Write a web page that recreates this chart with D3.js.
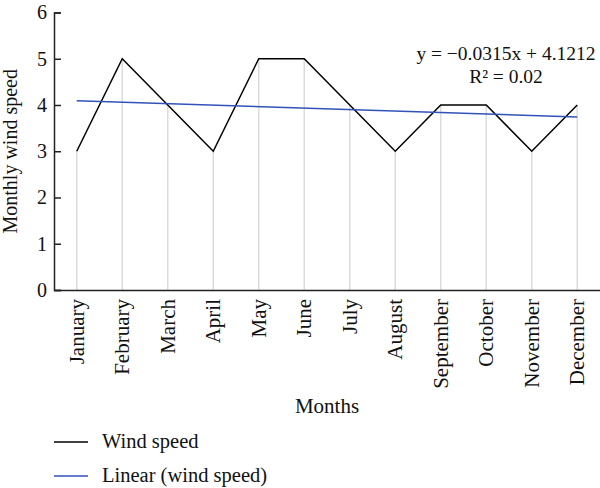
<!DOCTYPE html>
<html>
<head>
<meta charset="utf-8">
<script src="https://cdn.jsdelivr.net/npm/d3@7"></script>
<style>
    body { margin: 0; background: #fff; }
    svg { display: block; font-family: "Liberation Serif", "DejaVu Serif", serif; }
</style>
</head>
<body>
<svg id="chart" width="600" height="488"></svg>
<script>

const months = ['January', 'February', 'March', 'April', 'May', 'June',
    'July', 'August', 'September', 'October', 'November', 'December'];
const windSpeed = [3, 5, 4, 3, 5, 5, 4, 3, 4, 4, 3, 4];
const yTicks = [0, 1, 2, 3, 4, 5, 6];

// trendline as printed on the chart
const trendSlope = -0.0315;
const trendIntercept = 4.1212;
const trendLabel = ['y = \u22120.0315x + 4.1212', 'R\u00b2 = 0.02'];

const legendItems = [
    {name: 'Wind speed', color: '#000000'},
    {name: 'Linear (wind speed)', color: '#3352b8'}
];

const margin = {left: 54, right: 0, top: 12.5, bottom: 198};
const width = 600;
const height = 488;

const svg = d3.select('#chart');

const x = d3.scaleBand()
    .domain(months)
    .range([margin.left, width - margin.right]);

const y = d3.scaleLinear()
    .domain([0, 6])
    .range([height - margin.bottom, margin.top]);

const cx = function (m) { return x(m) + x.bandwidth() / 2; };

// drop lines
svg.append('g')
    .selectAll('line')
    .data(months)
    .enter()
    .append('line')
    .attr('x1', cx)
    .attr('x2', cx)
    .attr('y1', y(0))
    .attr('y2', function (d, i) { return y(windSpeed[i]); })
    .style('stroke', '#dcdcdc')
    .style('stroke-width', 1.5);

// y axis
const yAxis = svg.append('g')
    .attr('transform', 'translate(' + margin.left + ',0)')
    .call(d3.axisLeft(y).tickValues(yTicks).tickFormat(d3.format('d')).tickSize(-7).tickPadding(7));

yAxis.select('.domain').style('stroke', '#222').style('stroke-width', 1.5);
yAxis.selectAll('.tick line').style('stroke', '#222').style('stroke-width', 1.5);
yAxis.selectAll('.tick text')
    .style('font-size', '20px')
    .style('font-family', 'Liberation Serif')
    .style('fill', '#111');

// x axis
const xAxis = svg.append('g')
    .attr('transform', 'translate(0,' + y(0) + ')')
    .call(d3.axisBottom(x).tickSize(0).tickPadding(0));

xAxis.select('.domain').style('stroke', '#222').style('stroke-width', 1.5);
xAxis.selectAll('.tick text')
    .style('font-size', '21px')
    .style('font-family', 'Liberation Serif')
    .style('fill', '#111')
    .attr('text-anchor', 'end')
    .attr('transform', 'rotate(-90)')
    .attr('x', -9)
    .attr('y', 0)
    .attr('dy', '0.33em');

// wind speed line
svg.append('path')
    .datum(windSpeed)
    .attr('d', d3.line()
        .x(function (d, i) { return cx(months[i]); })
        .y(function (d) { return y(d); }))
    .style('fill', 'none')
    .style('stroke', legendItems[0].color)
    .style('stroke-width', 1.5);

// linear trend
const trendEnds = [1, months.length];
svg.append('path')
    .datum(trendEnds)
    .attr('d', d3.line()
        .x(function (n) { return cx(months[n - 1]); })
        .y(function (n) { return y(trendSlope * n + trendIntercept); }))
    .style('fill', 'none')
    .style('stroke', legendItems[1].color)
    .style('stroke-width', 1.5);

// trend equation
svg.append('g')
    .selectAll('text')
    .data(trendLabel)
    .enter()
    .append('text')
    .attr('x', 506)
    .attr('y', function (d, i) { return 60 + i * 23; })
    .attr('text-anchor', 'middle')
    .style('font-size', '19.5px')
    .style('fill', '#111')
    .text(function (d) { return d; });

// axis titles
svg.append('text')
    .attr('x', (margin.left + width - margin.right) / 2)
    .attr('y', 413)
    .attr('text-anchor', 'middle')
    .style('font-size', '21px')
    .style('fill', '#111')
    .text('Months');

svg.append('text')
    .attr('transform', 'translate(17,' + ((y(0) + y(6)) / 2) + ') rotate(-90)')
    .attr('text-anchor', 'middle')
    .style('font-size', '20px')
    .style('fill', '#111')
    .text('Monthly wind speed');

// legend
const legend = svg.append('g')
    .selectAll('g')
    .data(legendItems)
    .enter()
    .append('g')
    .attr('transform', function (d, i) { return 'translate(54,' + (442 + i * 34) + ')'; });

legend.append('line')
    .attr('x1', 0)
    .attr('x2', 34)
    .style('stroke', function (d) { return d.color; })
    .style('stroke-width', 1.5);

legend.append('text')
    .attr('x', 48)
    .attr('y', 6)
    .style('font-size', '20.5px')
    .style('fill', '#111')
    .text(function (d) { return d.name; });

</script>
</body>
</html>
